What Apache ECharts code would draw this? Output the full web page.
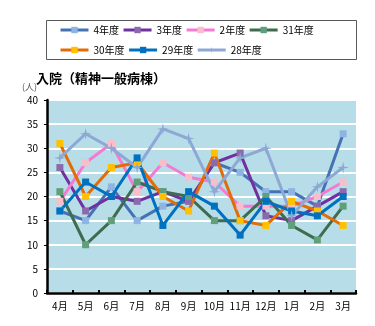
<!DOCTYPE html>
<html>
<head>
<meta charset="utf-8">
<script src="https://cdn.jsdelivr.net/npm/echarts@6/dist/echarts.min.js"></script>
<style>
  html, body { margin: 0; padding: 0; background: #fff; }
  #chart { width: 375px; height: 326px; }
</style>
</head>
<body>
<div id="chart"></div>
<script>
// Monthly inpatient counts (psychiatric general ward), one array per fiscal year
const months = ['4月', '5月', '6月', '7月', '8月', '9月', '10月', '11月', '12月', '1月', '2月', '3月'];
const yearNames = ['4年度', '3年度', '2年度', '31年度', '30年度', '29年度', '28年度'];
const fy4  = [17, 15, 22, 15, 18, 19, 27, 25, 21, 21, 18, 33];
const fy3  = [26, 17, 20, 19, 21, 19, 27, 29, 16, 15, 18, 21];
const fy2  = [19, 27, 31, 21, 27, 24, 23, 18, 18, 18, 20, 23];
const fy31 = [21, 10, 15, 23, 21, 20, 15, 15, 20, 14, 11, 18];
const fy30 = [31, 20, 26, 27, 20, 17, 29, 15, 14, 19, 17, 14];
const fy29 = [17, 23, 20, 28, 14, 21, 18, 12, 19, 17, 16, 20];
const fy28 = [28, 33, 30, 26, 34, 32, 21, 28, 30, 16, 22, 26];
const yTicks = { min: 0, max: 40, step: 5 };

const seriesValues = [fy4, fy3, fy2, fy31, fy30, fy29, fy28];
const lineColors   = ['#4472b4', '#7030a0', '#f57ad2', '#3f6b4f', '#e36c09', '#0070c0', '#8ea8d6'];
const markColors   = ['#8db4e2', '#8a6aac', '#f8bfca', '#5fa07b', '#ffc000', '#0070c0', '#8ea8d6'];
const starPath = 'path://M0,-6L1,-1L6,0L1,1L0,6L-1,1L-6,0L-1,-1Z';

const font = '"Noto Sans CJK JP", "Noto Sans", sans-serif';

// legend entries carry both the line colour and the marker colour
const legendItem = (i) => ({
  name: yearNames[i],
  lineStyle: { color: lineColors[i], width: 3 },
  itemStyle: { color: markColors[i] }
});
const legendBase = {
  left: 59, itemWidth: 28, itemHeight: 8, itemGap: 3,
  padding: 0,
  textStyle: { fontSize: 10, color: '#000', width: 41, fontFamily: font }
};

const chart = echarts.init(document.getElementById('chart'), null, { renderer: 'canvas' });

chart.setOption({
  animation: false,
  backgroundColor: '#ffffff',
  textStyle: { fontFamily: font },
  graphic: [
    {
      type: 'rect',
      shape: { x: 46.5, y: 20.5, width: 310, height: 39 },
      style: { fill: 'none', stroke: '#595959', lineWidth: 1 },
      silent: true
    },
    {
      type: 'text',
      left: 36, top: 72,
      style: { text: '入院（精神一般病棟）', font: 'bold 13px ' + font, fill: '#000' }
    },
    {
      type: 'text',
      left: 22, top: 82,
      style: { text: '(人)', font: '9px ' + font, fill: '#595959' }
    }
  ],
  legend: [
    Object.assign({}, legendBase, { top: 25, data: [0, 1, 2, 3].map(legendItem) }),
    Object.assign({}, legendBase, { top: 45, data: [4, 5, 6].map(legendItem) })
  ],
  grid: { left: 47, right: 19, top: 100, bottom: 33, containLabel: false },
  xAxis: {
    type: 'category',
    data: months,
    boundaryGap: true,
    axisLine: { lineStyle: { color: '#000', width: 2.5 } },
    axisTick: { show: true, inside: true, length: 3, lineStyle: { color: '#000', width: 2 } },
    axisLabel: { fontSize: 10, color: '#000', margin: 8, interval: 0 },
    splitLine: { show: false }
  },
  yAxis: {
    type: 'value',
    min: yTicks.min, max: yTicks.max, interval: yTicks.step,
    axisLine: { show: true, lineStyle: { color: '#000', width: 2.5 } },
    axisTick: { show: true, length: 3, lineStyle: { color: '#000', width: 1 } },
    axisLabel: { fontSize: 10, color: '#000', margin: 9 },
    splitLine: { show: true, lineStyle: { color: '#ffffff', width: 2 } },
    splitArea: { show: true, areaStyle: { color: ['#b7dde8', '#b7dde8'] } }
  },
  series: yearNames.map((name, i) => ({
    name: name,
    type: 'line',
    data: seriesValues[i],
    symbol: i === 6 ? starPath : 'rect',
    symbolSize: i === 6 ? 12 : 7,
    showAllSymbol: true,
    lineStyle: { color: lineColors[i], width: 3 },
    itemStyle: { color: markColors[i], borderWidth: 0 },
    emphasis: { disabled: true }
  }))
});
</script>
</body>
</html>
